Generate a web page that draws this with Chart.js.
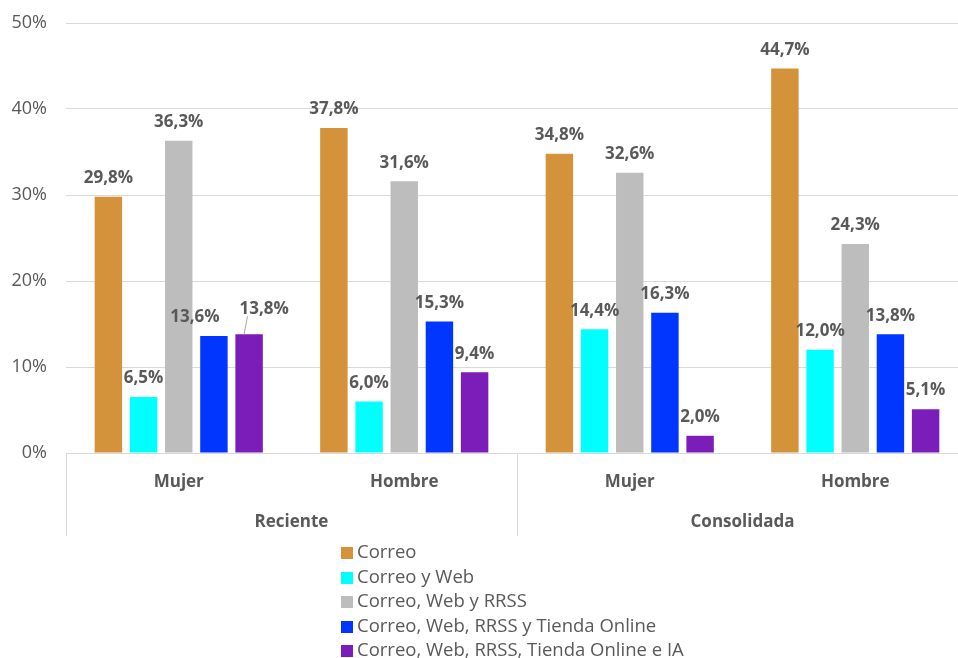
<!DOCTYPE html>
<html>
<head>
<meta charset="utf-8">
<script src="https://cdn.jsdelivr.net/npm/chart.js@4"></script>
<style>
  html, body { margin: 0; padding: 0; background: #fff; }
  body { width: 958px; height: 658px; overflow: hidden; position: relative; font-family: "Open Sans", sans-serif; }
  #wrap { position: absolute; left: 0; top: 0; width: 968px; height: 540px; }
  #legend { position: absolute; left: 341px; top: 539px; margin: 0; padding: 0; list-style: none; }
  #legend li { height: 24.6px; line-height: 24.6px; font-size: 18.5px; color: #595959; white-space: nowrap; }
  #legend span { display: inline-block; width: 12px; height: 12px; margin-right: 4px; vertical-align: -1px; }
</style>
</head>
<body>
<div id="wrap"><canvas id="chart"></canvas></div>
<ul id="legend"></ul>
<script>
// --- Data ---
const categories = ['Mujer', 'Hombre', 'Mujer', 'Hombre'];
const groups = ['Reciente', 'Consolidada'];
const yTicks = [0, 10, 20, 30, 40, 50];

const correo = [29.8, 37.8, 34.8, 44.7];
const correoWeb = [6.5, 6.0, 14.4, 12.0];
const correoWebRrss = [36.3, 31.6, 32.6, 24.3];
const correoTienda = [13.6, 15.3, 16.3, 13.8];
const correoIA = [13.8, 9.4, 2.0, 5.1];

const seriesNames = ['Correo', 'Correo y Web', 'Correo, Web y RRSS', 'Correo, Web, RRSS y Tienda Online', 'Correo, Web, RRSS, Tienda Online e IA'];
const seriesColors = ['#D4923A', '#00FFFF', '#BDBDBD', '#0036FF', '#7B1DB8'];
const seriesData = [correo, correoWeb, correoWebRrss, correoTienda, correoIA];

const fmt = v => v.toFixed(1).replace('.', ',') + '%';
const textColor = '#595959';

// value labels above bars (pushes apart neighbours that collide)
const valueLabels = {
    id: 'valueLabels',
    afterDatasetsDraw(chart) {
        const ctx = chart.ctx;
        ctx.save();
        ctx.font = 'bold 17px "Open Sans"';
        ctx.fillStyle = textColor;
        ctx.textAlign = 'center';
        ctx.textBaseline = 'bottom';
        categories.forEach((c, i) => {
            const items = chart.data.datasets.map((ds, d) => {
                const bar = chart.getDatasetMeta(d).data[i];
                const txt = fmt(ds.data[i]);
                return { txt, bx: bar.x, by: bar.y, x: bar.x, y: bar.y - 10, w: ctx.measureText(txt).width, moved: false };
            });
            for (let k = 0; k < items.length - 1; k++) {
                const a = items[k], b = items[k + 1];
                const need = (a.w + b.w) / 2 + 20;
                const gap = b.x - a.x;
                if (gap < need && Math.abs(a.y - b.y) < 18) {
                    const s = (need - gap) / 2;
                    a.x -= s + 2; b.x += s - 2; b.y -= 7; b.moved = true;
                }
            }
            items.forEach(it => {
                if (it.moved) {
                    ctx.strokeStyle = '#A6A6A6';
                    ctx.lineWidth = 1;
                    ctx.beginPath();
                    ctx.moveTo(it.x - it.w / 2 + 8, it.y - 1);
                    ctx.lineTo(it.bx - 5, it.by);
                    ctx.stroke();
                }
                ctx.fillText(it.txt, it.x, it.y);
            });
        });
        ctx.restore();
    }
};

// separators of the two-level category axis
const groupLines = {
    id: 'groupLines',
    afterDraw(chart) {
        const ctx = chart.ctx;
        const a = chart.chartArea;
        const x2 = chart.scales.x2;
        const mid = (a.left + a.right) / 2;
        ctx.save();
        ctx.strokeStyle = '#D9D9D9';
        ctx.lineWidth = 1;
        ctx.beginPath();
        [a.left, mid, a.right].forEach(x => {
            ctx.moveTo(Math.round(x) + 0.5, a.bottom);
            ctx.lineTo(Math.round(x) + 0.5, x2.bottom - 2);
        });
        ctx.stroke();
        ctx.restore();
    }
};

new Chart(document.getElementById('chart'), {
    type: 'bar',
    data: {
        labels: categories,
        datasets: seriesData.map((d, k) => ({
            label: seriesNames[k],
            data: d,
            backgroundColor: seriesColors[k],
            borderWidth: 0,
            categoryPercentage: 0.78,
            barPercentage: 0.78
        }))
    },
    options: {
        responsive: true,
        maintainAspectRatio: false,
        animation: false,
        layout: { padding: { top: 23, right: 0, bottom: 2, left: 0 } },
        plugins: { legend: { display: false }, tooltip: { enabled: false } },
        scales: {
            y: {
                min: 0, max: 50,
                afterBuildTicks: s => { s.ticks = yTicks.map(v => ({ value: v })); },
                afterFit: s => { s.width = 66; s.paddingTop = 0; s.paddingBottom = 0; },
                border: { display: false },
                grid: { color: '#D9D9D9', drawTicks: false },
                ticks: { padding: 19, color: textColor, font: { family: 'Open Sans', size: 18 }, callback: v => v + '%' }
            },
            x: {
                afterFit: s => { s.height = 40; },
                grid: { display: false },
                border: { display: false },
                ticks: { padding: 11, color: textColor, font: { family: 'Open Sans', size: 17, weight: 'bold' } }
            },
            x2: {
                type: 'category',
                position: 'bottom',
                labels: groups,
                afterFit: s => { s.height = 45; },
                grid: { display: false },
                border: { display: false },
                ticks: { padding: 11, color: textColor, font: { family: 'Open Sans', size: 17, weight: 'bold' } }
            }
        }
    },
    plugins: [valueLabels, groupLines]
});

// legend list
const legend = document.getElementById('legend');
seriesNames.forEach((n, k) => {
    const li = document.createElement('li');
    li.innerHTML = `<span style="background:${seriesColors[k]}"></span>${n}`;
    legend.appendChild(li);
});
</script>
</body>
</html>
